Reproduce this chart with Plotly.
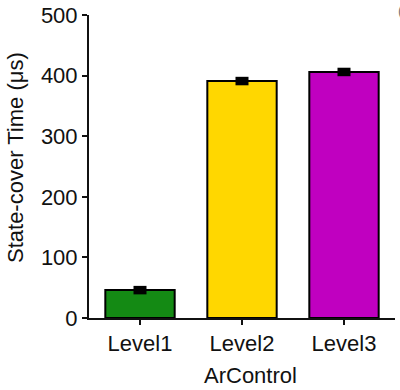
import plotly.graph_objects as go

categories = ["Level1", "Level2", "Level3"]
values = [46, 391, 406]
errors = [7, 7, 7]
colors = ["#148A14", "#FFD700", "#C000C0"]
y_ticks = [0, 100, 200, 300, 400, 500]

FONT = "Liberation Sans, Arial, sans-serif"
FS = 22
L, R, T, B = 89, 5, 15, 72
PW, PH = 400 - L - R, 390 - T - B

fig = go.Figure(go.Bar(
    x=categories, y=values,
    marker=dict(color=colors, line=dict(color="black", width=2)),
    width=0.68,
    error_y=dict(type="data", array=errors, visible=True,
                 color="black", thickness=13, width=0),
))

fig.update_layout(
    width=400, height=390,
    margin=dict(l=L, r=R, t=T, b=B),
    plot_bgcolor="white", paper_bgcolor="white",
    font=dict(family=FONT, size=FS, color="#111"),
    showlegend=False,
)
fig.update_xaxes(
    range=[-0.5, 2.5],
    showline=True, linecolor="#111", linewidth=2,
    ticks="outside", ticklen=5, tickwidth=2, tickcolor="#111",
    tickfont=dict(size=FS, family=FONT),
    showgrid=False, zeroline=False, automargin=False,
)
fig.update_yaxes(
    range=[0, 500], tickvals=y_ticks,
    showline=True, linecolor="#111", linewidth=2,
    ticks="outside", ticklen=5, tickwidth=2, tickcolor="#111",
    tickfont=dict(size=FS, family=FONT),
    showgrid=False, zeroline=False, automargin=False,
)
# y-axis title
fig.add_annotation(
    text="State-cover Time (μs)", textangle=-90,
    xref="paper", yref="paper", x=(15 - L) / PW, y=(T + PH - 158) / PH,
    xanchor="center", yanchor="middle",
    showarrow=False, font=dict(size=FS, family=FONT, color="#111"),
)
# x-axis title
fig.add_annotation(
    text="ArControl",
    xref="paper", yref="paper", x=(250 - L) / PW, y=(T + PH - 375) / PH,
    xanchor="center", yanchor="middle",
    showarrow=False, font=dict(size=FS, family=FONT, color="#111"),
)
fig.add_annotation(
    text="(", xref="paper", yref="paper", x=1, y=1,
    xanchor="left", yanchor="top", xshift=1, yshift=14,
    showarrow=False, font=dict(size=14, family=FONT, color="#777"),
)

fig.write_html(
    "out.html",
    config={"displayModeBar": False},
    post_script="document.body.style.margin='0';document.body.style.padding='0';",
)
